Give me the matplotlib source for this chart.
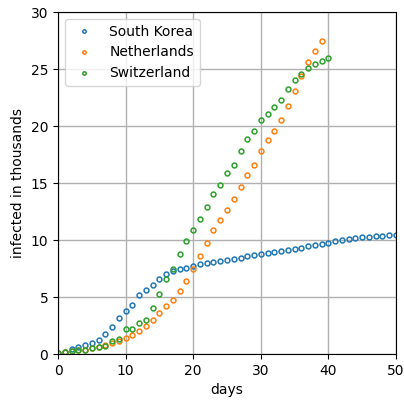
import numpy as np
import matplotlib
matplotlib.use('Agg')
import matplotlib.pyplot as plt

# cumulative infections (thousands), one value per day since the 100th case
south_korea = [0.104, 0.204, 0.433, 0.602, 0.833, 0.977, 1.261, 1.766, 2.337, 3.150,
               3.736, 4.335, 5.186, 5.621, 6.088, 6.593, 7.041, 7.313, 7.478, 7.513,
               7.755, 7.869, 7.979, 8.086, 8.162, 8.236, 8.320, 8.413, 8.565, 8.652,
               8.799, 8.897, 8.961, 9.037, 9.137, 9.241, 9.332, 9.478, 9.583, 9.661,
               9.786, 9.887, 9.976, 10.062, 10.156, 10.237, 10.284, 10.331, 10.384, 10.423,
               10.450]
netherlands = [0.128, 0.188, 0.265, 0.321, 0.382, 0.503, 0.614, 0.804, 0.959, 1.135,
               1.413, 1.705, 2.051, 2.460, 2.994, 3.631, 4.204, 4.749, 5.560, 6.412,
               7.431, 8.603, 9.762, 10.866, 11.750, 12.595, 13.614, 14.697, 15.723, 16.627,
               17.851, 18.803, 19.580, 20.549, 21.762, 23.097, 24.413, 25.587, 26.551, 27.419]
switzerland = [0.090, 0.214, 0.268, 0.337, 0.374, 0.491, 0.652, 0.730, 1.139, 1.359,
               2.200, 2.200, 2.700, 3.028, 4.075, 5.294, 6.575, 7.474, 8.795, 9.877,
               10.897, 11.811, 12.928, 14.076, 14.829, 15.922, 16.605, 17.768, 18.827, 19.606,
               20.505, 21.100, 21.657, 22.253, 23.280, 24.051, 24.551, 25.107, 25.415, 25.688,
               25.936]

countries = {'South Korea': south_korea,
             'Netherlands': netherlands,
             'Switzerland': switzerland}

fig = plt.figure(figsize=(4.04, 4.01), dpi=100)
ax = fig.add_axes([0.1436, 0.117, 0.8366, 0.853])

for name, vals in countries.items():
    days = np.arange(len(vals))
    ax.plot(days, vals, 'o', fillstyle='none', markersize=3.5,
            markeredgewidth=1.1, label=name)

ax.set_xlim(0, 50)
ax.set_ylim(0, 30)
ax.set_xlabel('days')
ax.set_ylabel('infected in thousands')
ax.grid(True, linewidth=1)
ax.legend(loc='upper left', markerscale=0.7)

fig.savefig('out.png', dpi=100)
